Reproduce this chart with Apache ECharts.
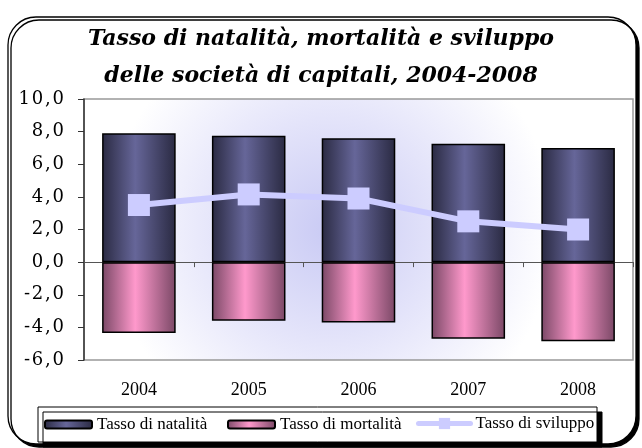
<!DOCTYPE html>
<html>
<head>
<meta charset="utf-8">
<script src="https://cdn.jsdelivr.net/npm/echarts@6/dist/echarts.min.js"></script>
<style>
  html, body { margin: 0; padding: 0; background: #fff; }
  #chart { width: 642px; height: 448px; }
</style>
</head>
<body>
<div id="chart"></div>
<script>
// dati
const anni = ['2004', '2005', '2006', '2007', '2008']
const natalita = [7.9, 7.75, 7.6, 7.25, 7.0]
const mortalita = [-4.35, -3.6, -3.7, -4.7, -4.85]
const sviluppo = [3.5, 4.15, 3.9, 2.5, 2.0]
const yMin = -6
const yMax = 10
const yStep = 2

const chart = echarts.init(document.getElementById('chart'))

const navy = new echarts.graphic.LinearGradient(0, 0, 1, 0, [
  { offset: 0, color: '#2a2a42' },
  { offset: 0.45, color: '#666699' },
  { offset: 1, color: '#2a2a42' }
])
const pink = new echarts.graphic.LinearGradient(0, 0, 1, 0, [
  { offset: 0, color: '#7a4866' },
  { offset: 0.45, color: '#ff99cc' },
  { offset: 1, color: '#7a4866' }
])

const legendText = { fontFamily: 'Liberation Serif', fontSize: 17, color: '#000' }
function legendFor(name, left, extra) {
  return Object.assign({
    left: left,
    top: 416,
    padding: 0,
    itemWidth: 47,
    itemHeight: 8,
    itemGap: 0,
    textStyle: legendText,
    data: [name]
  }, extra || {})
}

chart.setOption({
  animation: false,
  graphic: [{
    type: 'rect',
    z: -1,
    shape: { x: 8, y: 17, width: 628, height: 427, r: 28 },
    style: {
      fill: '#fff',
      stroke: '#000',
      lineWidth: 1.3,
      shadowColor: '#000',
      shadowOffsetX: 3,
      shadowOffsetY: 3
    }
  }, {
    type: 'rect',
    z: 3,
    shape: { x: 38, y: 407, width: 559, height: 35 },
    style: {
      fill: '#fff',
      stroke: '#000',
      lineWidth: 1,
      shadowColor: '#000',
      shadowOffsetX: 5,
      shadowOffsetY: 5
    }
  }],
  title: {
    text: 'Tasso di natalità, mortalità e sviluppo\ndelle società di capitali, 2004-2008',
    left: 'center',
    top: 16,
    textStyle: {
      fontFamily: 'DejaVu Serif',
      fontStyle: 'italic',
      fontWeight: 'bold',
      fontSize: 22,
      lineHeight: 37,
      color: '#000'
    }
  },
  grid: {
    left: 84,
    top: 99,
    right: 9,
    bottom: 88,
    show: true,
    borderColor: '#999',
    borderWidth: 1.5,
    backgroundColor: new echarts.graphic.RadialGradient(0.45, 0.5, 0.85, [
      { offset: 0, color: '#c9caf4' },
      { offset: 0.5, color: '#e4e4fa' },
      { offset: 1, color: '#ffffff' }
    ])
  },
  legend: [
    legendFor('Tasso di natalità', 44),
    legendFor('Tasso di mortalità', 227),
    legendFor('Tasso di sviluppo', 416, {
      top: 415,
      itemWidth: 52,
      itemHeight: 14,
      lineStyle: { width: 5, cap: 'round' }
    })
  ],
  xAxis: [{
    type: 'category',
    data: anni,
    position: 'bottom',
    axisLine: { show: false, onZero: false },
    axisTick: { show: false },
    axisLabel: { fontFamily: 'Liberation Serif', fontSize: 18, color: '#000', margin: 21 }
  }, {
    type: 'category',
    data: anni,
    position: 'top',
    axisLine: { onZero: true, lineStyle: { color: '#555', width: 1 } },
    axisTick: { show: true, inside: true, length: 5, lineStyle: { color: '#555' } },
    axisLabel: { show: false }
  }],
  yAxis: {
    type: 'value',
    min: yMin,
    max: yMax,
    interval: yStep,
    splitLine: { show: false },
    axisLine: { show: true, lineStyle: { color: '#333', width: 1.5 } },
    axisTick: { show: true, length: 6, lineStyle: { color: '#333' } },
    axisLabel: {
      fontFamily: 'DejaVu Serif',
      fontSize: 18,
      color: '#000',
      margin: 20,
      formatter: v => v.toFixed(1).replace('.', ',').split('').join('\u200a')
    }
  },
  series: [{
    name: 'Tasso di natalità',
    type: 'bar',
    stack: 'tot',
    barWidth: '67%',
    data: natalita,
    itemStyle: { color: navy, borderColor: '#000', borderWidth: 1.5 }
  }, {
    name: 'Tasso di mortalità',
    type: 'bar',
    stack: 'tot',
    data: mortalita,
    itemStyle: { color: pink, borderColor: '#000', borderWidth: 1.5 }
  }, {
    name: 'Tasso di sviluppo',
    type: 'line',
    z: 5,
    data: sviluppo,
    symbol: 'rect',
    symbolSize: 22,
    lineStyle: { color: '#ccccff', width: 6 },
    itemStyle: { color: '#ccccff' }
  }]
})
</script>
</body>
</html>
